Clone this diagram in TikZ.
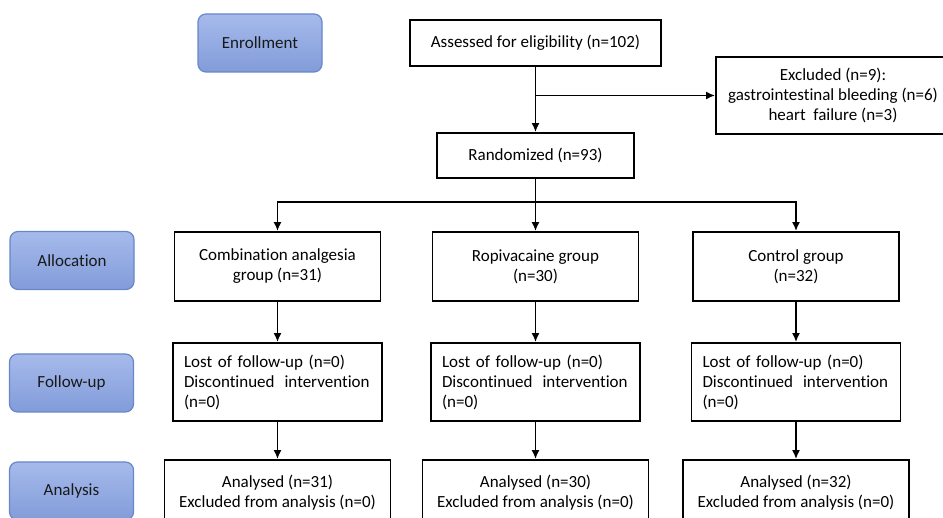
\documentclass[tikz,border=0pt]{standalone}
\usepackage{fontspec}
\setmainfont{Carlito}[Ligatures=NoCommon]
\usepackage{tikz}
\usetikzlibrary{arrows.meta}
\usetikzlibrary{positioning}
\definecolor{stagetop}{RGB}{166,186,235}
\definecolor{stagebot}{RGB}{130,156,218}
\definecolor{stageline}{RGB}{104,134,202}
\tikzstyle{stage}=[draw=stageline,line width=1.2pt,rounded corners=8pt,top color=stagetop,bottom color=stagebot,minimum width=124pt,minimum height=58pt,inner sep=0pt,text=black!90]
\tikzstyle{box}=[draw,fill=white,inner sep=0pt,align=center]
\tikzstyle{group}=[box,minimum width=206pt,minimum height=69pt]
\tikzstyle{lost}=[draw,fill=white,inner xsep=11pt,inner ysep=0pt,text width=187pt,align=left,minimum height=78pt]
\tikzstyle{result}=[box,minimum width=226pt,minimum height=66pt]
\newcommand{\lostlines}{Lost of follow-up (n=0)\\\mbox{Discontinued\hspace{10pt}intervention}\\(n=0)}

\begin{document}
\begin{tikzpicture}[x=1pt,y=-1pt,line width=1.8pt,font=\fontsize{17pt}{20pt}\selectfont,>={Latex[length=9pt,width=8pt]}]
\clip (0,0) rectangle (943,518);
% stages on the left
\node [stage] (enroll) at (260,43) {Enrollment};
\node [stage] (alloc) at (72,260.5) {Allocation};
\node [stage] (follow) at (71.5,383) {Follow-up};
\node [stage] (analysis) at (71.5,491) {Analysis};

\node [box,minimum width=251pt,minimum height=46pt] (assess) at (535.5,43) {Assessed for eligibility (n=102)};
\node [box,minimum width=234pt,minimum height=77pt] (excl) at (833,95.5) {Excluded (n=9):\\gastrointestinal bleeding (n=6)\\heart\ \ failure (n=3)};
\node [box,minimum width=197pt,minimum height=45pt] (rand) at (535.5,155.5) {Randomized (n=93)};

\node [group] (comb) at (277.5,266.5) {Combination analgesia\\group (n=31)};
\node [group] (ropi) at (535.5,266.5) {Ropivacaine group\\(n=30)};
\node [group] (ctrl) at (796,266.5) {Control group\\(n=32)};

\node [lost] (fu1) at (277.5,382) {\lostlines};
\node [lost] (fu2) at (535.5,382) {\lostlines};
\node [lost] (fu3) at (796,382) {\lostlines};

\node [result] (an1) at (277.5,493) {Analysed (n=31)\\Excluded from analysis (n=0)};
\node [result] (an2) at (535.5,493) {Analysed (n=30)\\Excluded from analysis (n=0)};
\node [result] (an3) at (796,493) {Analysed (n=32)\\Excluded from analysis (n=0)};

\coordinate (branch) at (assess.south |- excl.west);
\coordinate (split) at ([yshift=-23pt]rand.south);

\draw[->] (assess) -- (rand);
\draw[->] (branch) -- (excl.west);
\draw (rand) -- (split);
\draw[->] (split) -| (comb);
\draw[->] (split) -- (ropi);
\draw[->] (split) -| (ctrl);
\draw[->] (comb) -- (fu1);
\draw[->] (ropi) -- (fu2);
\draw[->] (ctrl) -- (fu3);
\draw[->] (fu1) -- (an1);
\draw[->] (fu2) -- (an2);
\draw[->] (fu3) -- (an3);
\end{tikzpicture}
\end{document}
